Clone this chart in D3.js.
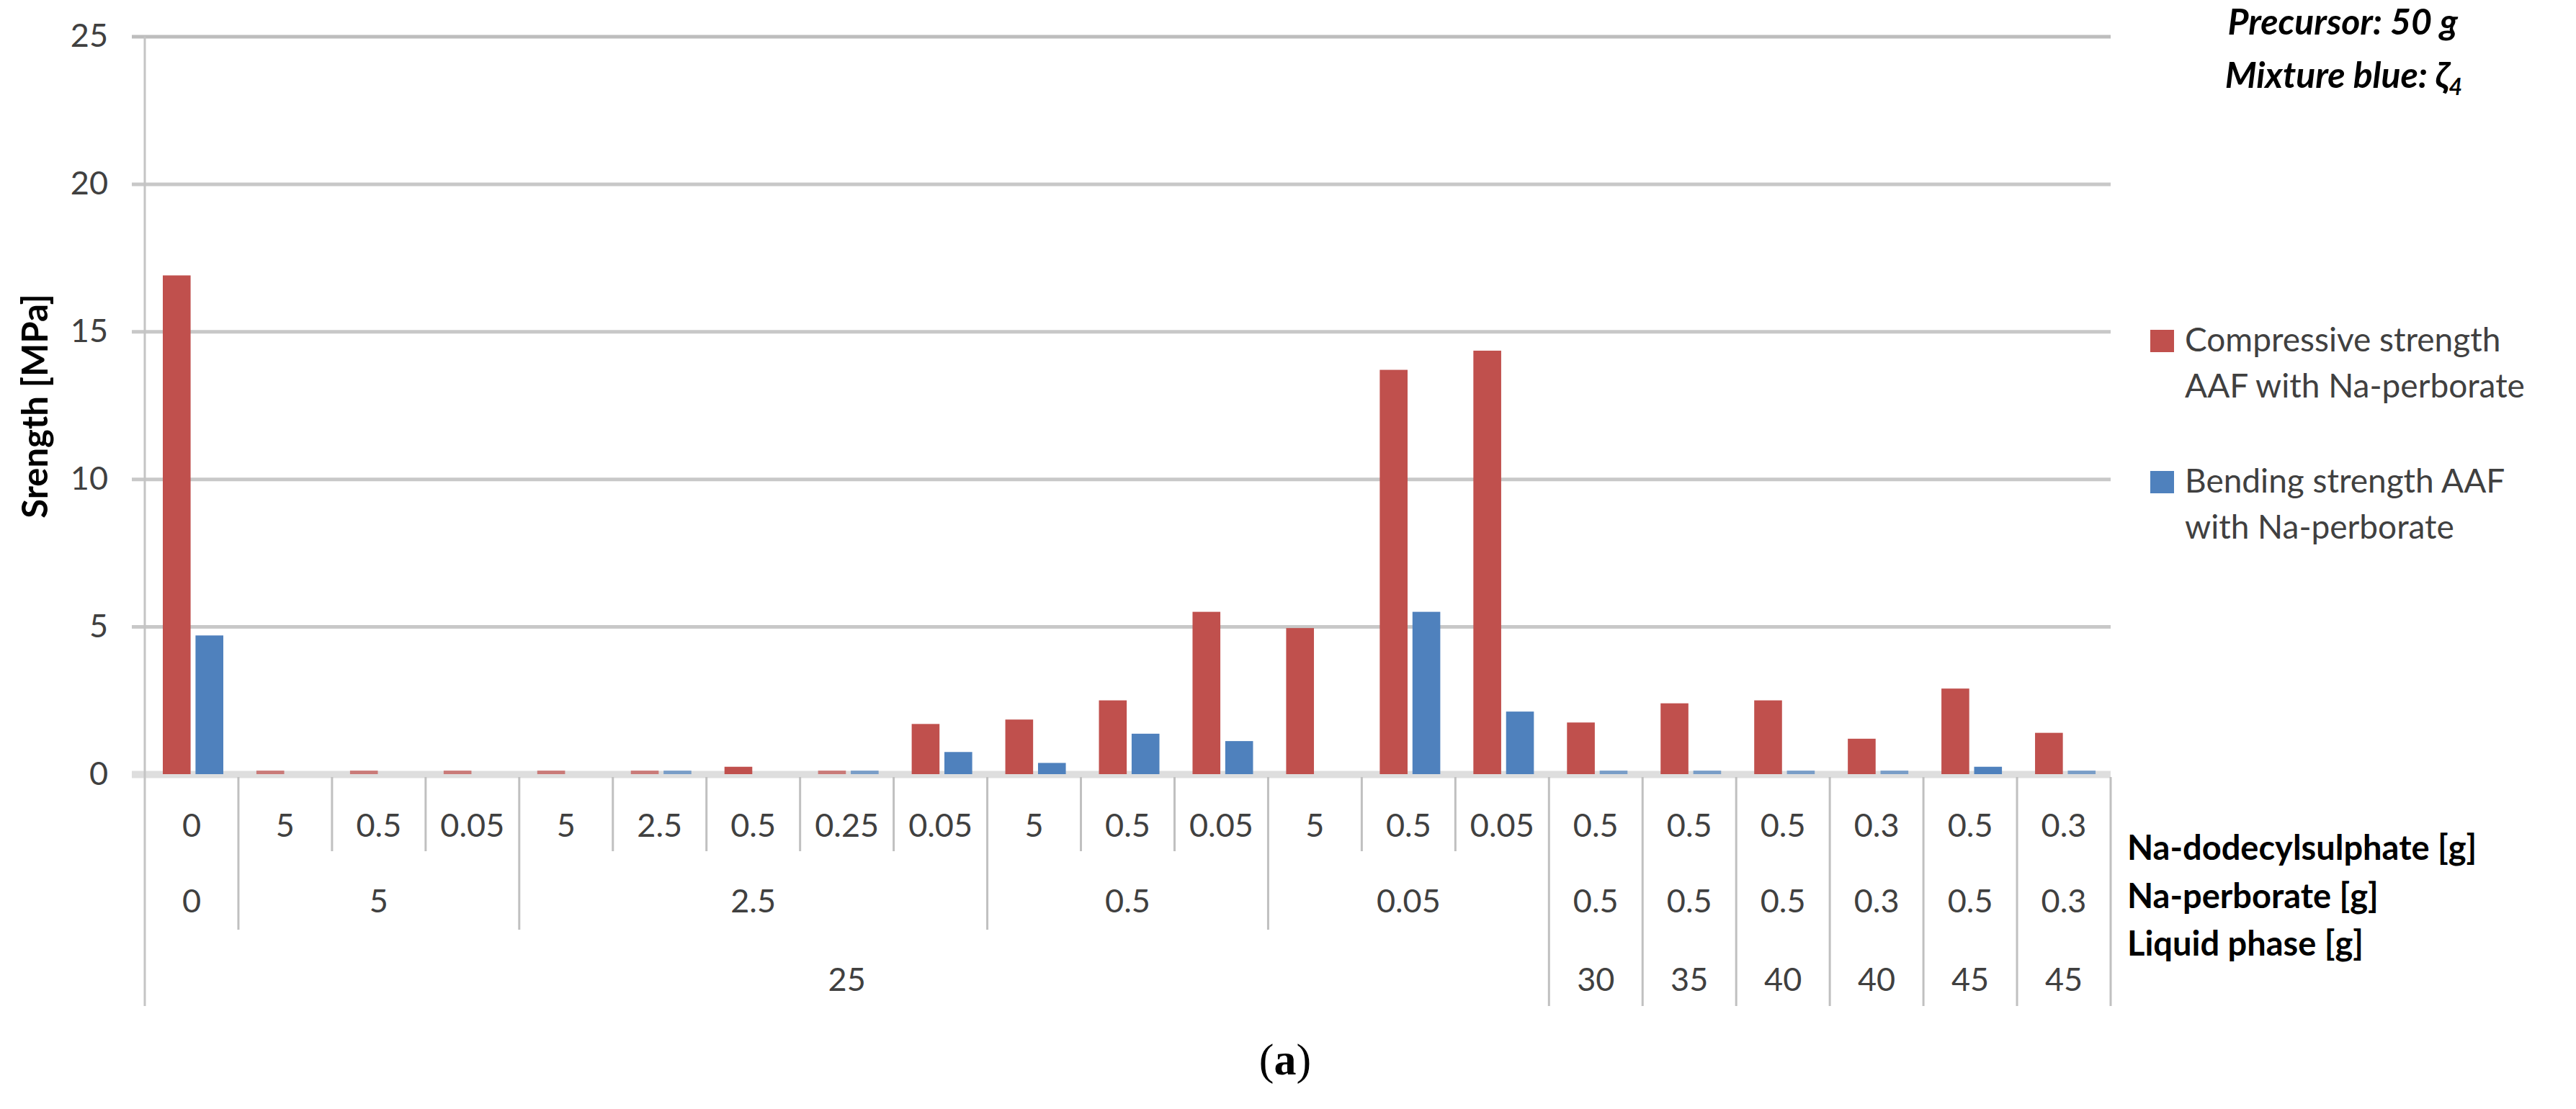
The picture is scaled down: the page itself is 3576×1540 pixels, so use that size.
<!DOCTYPE html>
<html>
<head>
<meta charset="utf-8">
<script src="https://cdn.jsdelivr.net/npm/d3@7"></script>
<style>
  body { margin: 0; background: #fff; }
  svg { display: block; }
</style>
</head>
<body>
<div id="chart"></div>
<script>
// valores
const series = ["Compressive strength AAF with Na-perborate", "Bending strength AAF with Na-perborate"];
const compressive = [16.9, 0.12, 0.12, 0.12, 0.12, 0.12, 0.25, 0.12, 1.7, 1.85, 2.5, 5.5, 4.95, 13.7, 14.35, 1.75, 2.4, 2.5, 1.2, 2.9, 1.4];
const bending = [4.7, 0, 0, 0, 0, 0.12, 0, 0.12, 0.75, 0.38, 1.37, 1.12, 0, 5.5, 2.12, 0.12, 0.12, 0.12, 0.12, 0.25, 0.12];

// eixo x em três níveis
const dodecyl = ["0", "5", "0.5", "0.05", "5", "2.5", "0.5", "0.25", "0.05", "5", "0.5", "0.05", "5", "0.5", "0.05", "0.5", "0.5", "0.5", "0.3", "0.5", "0.3"];
const perborate = ["0", "5", "2.5", "0.5", "0.05", "0.5", "0.5", "0.5", "0.3", "0.5", "0.3"];
const perborateSpan = [1, 3, 5, 3, 3, 1, 1, 1, 1, 1, 1];
const liquid = ["25", "30", "35", "40", "40", "45", "45"];
const liquidSpan = [15, 1, 1, 1, 1, 1, 1];
const rowTitles = ["Na-dodecylsulphate [g]", "Na-perborate [g]", "Liquid phase [g]"];
const yTicks = [0, 5, 10, 15, 20, 25];

const W = 3576, H = 1540;
const plotL = 201, plotR = 2930, plotT = 50.5, zeroY = 1075;
const row1 = 1145, row2 = 1250, row3 = 1359; // centros das linhas de rótulos
const bot1 = 1182, bot2 = 1291, bot3 = 1397;
const font = "Lato, 'Open Sans', sans-serif";
const red = "#C0504D", blue = "#4F81BD";

const svg = d3.select("#chart").append("svg")
    .attr("width", W)
    .attr("height", H);

const x = d3.scaleBand().domain(d3.range(dodecyl.length)).range([plotL, plotR]);
const xs = d3.scaleBand().domain([0, 1]).range([25, 109]).paddingInner(0.15);
const y = d3.scaleLinear().domain([0, 25]).range([zeroY, plotT]);

// grade + rótulos do eixo y
const yAxis = svg.append("g")
    .attr("transform", "translate(183,0)")
    .call(d3.axisLeft(y).tickValues(yTicks).tickSize(-(plotR - 183)).tickPadding(33));
yAxis.select(".domain").remove();
yAxis.selectAll(".tick line")
    .attr("stroke", d => d === 25 ? "#bdbdbd" : "#c8c8c8")
    .attr("stroke-width", 5);
yAxis.selectAll(".tick").filter(d => d === 0).select("line")
    .attr("stroke", "#dedede").attr("stroke-width", 10);
yAxis.selectAll(".tick text")
    .attr("font-family", font)
    .attr("font-size", 45)
    .attr("fill", "#404040");

// eixo vertical
svg.append("line")
    .attr("x1", plotL).attr("x2", plotL)
    .attr("y1", plotT).attr("y2", bot3)
    .attr("stroke", "#c4c4c4").attr("stroke-width", 3);

// barras
const data = dodecyl.map((d, i) => [compressive[i], bending[i]]);
const groups = svg.append("g").selectAll("g")
    .data(data)
    .join("g")
    .attr("transform", (d, i) => `translate(${x(i)},0)`);
groups.selectAll("rect")
    .data(d => d.map((v, k) => ({ v, k })))
    .join("rect")
    .attr("x", d => xs(d.k))
    .attr("width", xs.bandwidth())
    .attr("y", d => y(d.v))
    .attr("height", d => y(0) - y(d.v))
    .attr("fill", d => d.k === 0 ? red : blue)
    .attr("fill-opacity", d => d.v < 0.2 ? 0.7 : 1);

// divisórias do eixo x
const liqEdges = d3.cumsum(liquidSpan);
const perEdges = d3.cumsum(perborateSpan);
const edges = d3.range(1, dodecyl.length + 1);
svg.append("g").selectAll("line")
    .data(edges)
    .join("line")
    .attr("x1", i => x(i - 1) + x.bandwidth())
    .attr("x2", i => x(i - 1) + x.bandwidth())
    .attr("y1", zeroY + 4)
    .attr("y2", i => liqEdges.includes(i) ? bot3 : perEdges.includes(i) ? bot2 : bot1)
    .attr("stroke", "#c0c0c0")
    .attr("stroke-width", 3);

const labelStyle = s => s
    .attr("font-family", font)
    .attr("font-size", 45)
    .attr("fill", "#404040")
    .attr("text-anchor", "middle")
    .attr("dominant-baseline", "central");

svg.append("g").selectAll("text")
    .data(dodecyl)
    .join("text")
    .attr("x", (d, i) => x(i) + x.bandwidth() / 2)
    .attr("y", row1)
    .text(d => d)
    .call(labelStyle);

const perStart = [0, ...perEdges.slice(0, -1)];
svg.append("g").selectAll("text")
    .data(perborate)
    .join("text")
    .attr("x", (d, i) => x(perStart[i]) + perborateSpan[i] * x.bandwidth() / 2)
    .attr("y", row2)
    .text(d => d)
    .call(labelStyle);

const liqStart = [0, ...liqEdges.slice(0, -1)];
svg.append("g").selectAll("text")
    .data(liquid)
    .join("text")
    .attr("x", (d, i) => x(liqStart[i]) + liquidSpan[i] * x.bandwidth() / 2)
    .attr("y", row3)
    .text(d => d)
    .call(labelStyle);

// títulos das linhas
svg.append("g").selectAll("text")
    .data(rowTitles)
    .join("text")
    .attr("x", 2953)
    .attr("y", (d, i) => [1176, 1243, 1309][i])
    .attr("dominant-baseline", "central")
    .attr("font-family", font)
    .attr("font-size", 47)
    .attr("font-weight", "bold")
    .attr("fill", "#000")
    .text(d => d);

// título do eixo y
svg.append("text")
    .attr("transform", "translate(66,564) rotate(-90)")
    .attr("text-anchor", "middle")
    .attr("font-family", font)
    .attr("font-size", 49)
    .attr("font-weight", "bold")
    .attr("fill", "#000")
    .text("Srength [MPa]");

// nota no canto
const note = svg.append("g")
    .attr("font-family", font)
    .attr("font-size", 50)
    .attr("font-weight", "bold")
    .attr("font-style", "italic")
    .attr("text-anchor", "end")
    .attr("fill", "#000");
note.append("text").attr("x", 3412).attr("y", 48).text("Precursor: 50 g");
const n2 = note.append("text").attr("x", 3418).attr("y", 122);
n2.append("tspan").text("Mixture blue: ζ");
n2.append("tspan").attr("font-size", 32).attr("dy", 10).text("4");

// legenda
const legLines = [["Compressive strength", "AAF with Na-perborate"], ["Bending strength AAF", "with Na-perborate"]];
const leg = svg.append("g").selectAll("g")
    .data(series)
    .join("g")
    .attr("transform", (d, i) => `translate(2985,${[458, 654][i]})`);
leg.append("rect")
    .attr("width", 33).attr("height", 31)
    .attr("fill", (d, i) => i === 0 ? red : blue);
leg.append("text")
    .attr("font-family", font)
    .attr("font-size", 46)
    .attr("fill", "#404040")
    .selectAll("tspan")
    .data((d, i) => legLines[i])
    .join("tspan")
    .attr("x", 48)
    .attr("y", (d, j) => 30 + j * 64)
    .text(d => d);

// legenda da figura
const cap = svg.append("text")
    .attr("x", 1784).attr("y", 1492)
    .attr("text-anchor", "middle")
    .attr("font-family", "'Liberation Serif', serif")
    .attr("font-size", 62)
    .attr("fill", "#000");
cap.append("tspan").text("(");
cap.append("tspan").attr("font-weight", "bold").text("a");
cap.append("tspan").text(")");
</script>
</body>
</html>
